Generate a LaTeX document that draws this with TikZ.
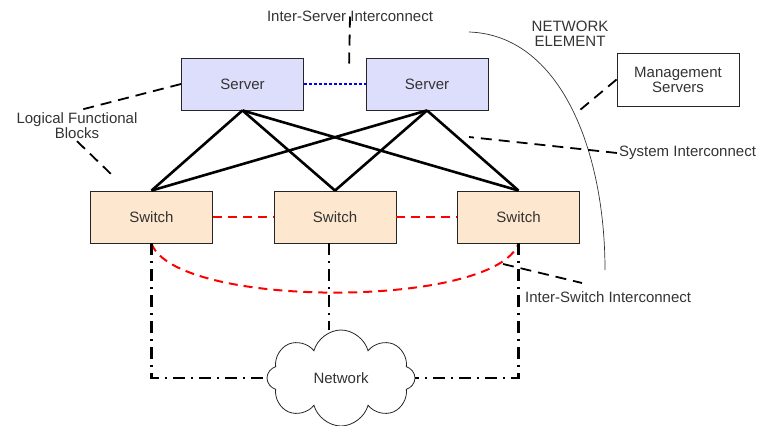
\documentclass[tikz,border=0pt]{standalone}
\usepackage{fontspec}
\setmainfont{Liberation Sans}
\usetikzlibrary{shapes.symbols}
\definecolor{serverfill}{RGB}{221,221,252}
\definecolor{switchfill}{RGB}{253,231,206}
\tikzset{
  box/.style={draw=black!85,line width=0.9pt,minimum width=122pt,minimum height=52pt,text=black!80,align=center},
  server/.style={box,fill=serverfill},
  switch/.style={box,fill=switchfill},
  note/.style={line width=1.8pt,dash pattern=on 11pt off 7pt},
  link/.style={line width=2.6pt},
  isl/.style={red,line width=2pt,dash pattern=on 9pt off 6pt},
  dashdot/.style={line width=2.4pt,dash pattern=on 12pt off 6pt on 2pt off 6pt},
  caption/.style={text=black!80,align=center,inner sep=2pt}
}
\begin{document}
\begin{tikzpicture}[x=1pt,y=-1pt,font=\fontsize{15}{17}\selectfont]
        \useasboundingbox (0,0) rectangle (759,425);
        % boxes
        \node[server] (srvA) at (242.5,84) {Server};
        \node[server] (srvB) at (427,84) {Server};
        \node[switch] (swA) at (151.5,217) {Switch};
        \node[switch] (swB) at (335,217) {Switch};
        \node[switch] (swC) at (518.5,217) {Switch};
        \node[box,minimum height=53pt] (mgmt) at (678,79.5) {Management\\[-2pt]Servers};
        \node[cloud,cloud puffs=8,aspect=1.6,draw=black!85,line width=0.8pt,
              minimum width=148pt,minimum height=96pt,text=black!80] (net) at (341,378) {Network};
        % labels
        \node[caption] (isc) at (350,16) {Inter-Server Interconnect};
        \node[caption] (lfb) at (77,126) {Logical Functional\\[-2pt]Blocks};
        \node[caption] (ne) at (570,34) {NETWORK\\[-2pt]ELEMENT};
        \node[caption,anchor=west] (sysi) at (617,153) {System Interconnect};
        \node[caption,anchor=west] (iswi) at (523,297) {Inter-Switch Interconnect};
        \coordinate (iscEnd) at (349,70);
        \coordinate (lfbEnd) at (111,174);
        \coordinate (mgmtEnd) at (580,110);
        \coordinate (sysiEnd) at (469,137);
        \coordinate (iswiA) at (503,264);
        \coordinate (iswiB) at (582,283);
        % network element boundary
        \draw[black!80,line width=0.7pt] (469,32) .. controls (560,35) and (605,150) .. (605,270);
        % links
        \foreach \Top in {srvA,srvB}
        \foreach \Bot in {swA,swB,swC}
        \draw[link] (\Top.south) -- (\Bot.north);
        \draw[blue,line width=2pt,dash pattern=on 3pt off 2pt] (srvA.east) -- (srvB.west);
        \draw[isl] (swA.east) -- (swB.west);
        \draw[isl] (swB.east) -- (swC.west);
        \draw[isl] (swA.south) .. controls (175,309) and (495,309) .. (swC.south);
        \draw[dashdot] (swA.south) |- (net.west);
        \draw[dashdot] ([xshift=-6pt]swB.south) -- ([xshift=-6pt]swB.south |- net.north);
        \draw[dashdot] (swC.south) |- (net.east);
        % annotation lines
        \draw[note] ([yshift=7pt]isc.south) -- (iscEnd);
        \draw[note] (srvA.west) -- (lfb.north);
        \draw[note] (lfb.south) -- (lfbEnd);
        \draw[note] (mgmt.west) -- (mgmtEnd);
        \draw[note] (sysi.west) -- (sysiEnd);
        \draw[note] (iswiA) -- (iswiB);
\end{tikzpicture}
\end{document}
